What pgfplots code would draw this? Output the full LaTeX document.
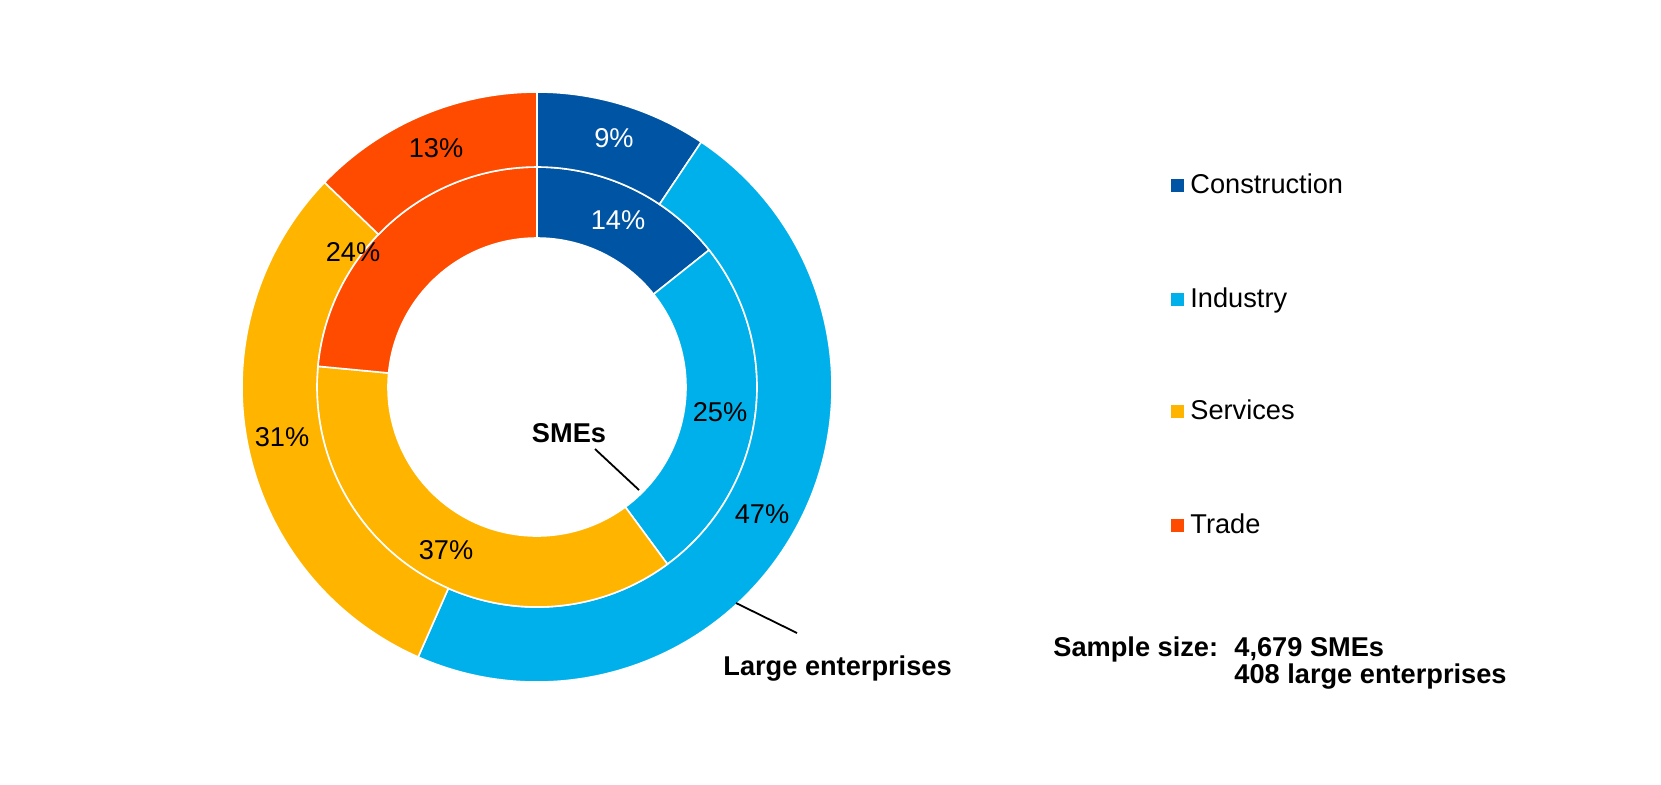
\documentclass[border=0pt]{standalone}
\usepackage{fontspec}
\setmainfont{Liberation Sans}
\usepackage{pgfplots}
\usepackage{pgfplotstable}
\pgfplotsset{compat=1.18}

\definecolor{cConstruction}{RGB}{0,84,164}
\definecolor{cIndustry}{RGB}{0,176,234}
\definecolor{cServices}{RGB}{255,180,0}
\definecolor{cTrade}{RGB}{255,75,0}

% shares in percent (inner ring: SMEs, outer ring: large enterprises)
\pgfplotstableread{
sector       sme   large
Construction 14.3  9.4
Industry     25.6  47.2
Services     36.6  30.6
Trade        23.5  12.8
}\shares

% one ring segment: #1 start (%), #2 share (%), #3 inner radius, #4 outer radius, #5 colour
\newcommand\donutseg[5]{%
  \fill[#5, draw=white, line width=0.8pt]
    ([shift={({90-3.6*(#1)}:#4)}]axis cs:537,387)
    arc[start angle={90-3.6*(#1)}, delta angle={-3.6*(#2)}, radius=#4]
    -- ([shift={({90-3.6*(#1+#2)}:#3)}]axis cs:537,387)
    arc[start angle={90-3.6*(#1+#2)}, delta angle={3.6*(#2)}, radius=#3]
    -- cycle;}

\def\segs{}
\def\cumS{0}\def\cumL{0}
\pgfplotsforeachungrouped \i in {0,...,3}{%
  \pgfplotstablegetelem{\i}{sme}\of\shares \let\vS\pgfplotsretval
  \pgfplotstablegetelem{\i}{large}\of\shares \let\vL\pgfplotsretval
  \pgfplotstablegetelem{\i}{sector}\of\shares \let\nm\pgfplotsretval
  \xdef\segs{\unexpanded\expandafter{\segs}%
    \noexpand\donutseg{\cumS}{\vS}{74.5pt}{110pt}{c\nm}%
    \noexpand\donutseg{\cumL}{\vL}{110pt}{147.5pt}{c\nm}}%
  \pgfmathsetmacro\cumS{\cumS+\vS}%
  \pgfmathsetmacro\cumL{\cumL+\vL}%
}

\newcommand\lbl{\fontsize{13.6pt}{16pt}\selectfont}

\begin{document}
\begin{tikzpicture}[every node/.append style={font=\lbl, inner sep=0pt}]
\lbl
\begin{axis}[
  width=830.5pt, height=392pt, scale only axis,
  xmin=0, xmax=1661, ymin=0, ymax=784, y dir=reverse,
  hide axis, clip=false,
]
\path (axis cs:0,0) rectangle (axis cs:1661,784);
\segs

% percentage labels
\node[white, font=\lbl, inner sep=0pt] at (axis cs:614,138) {9\%};
\node[font=\lbl, inner sep=0pt] at (axis cs:762,514) {47\%};
\node[font=\lbl, inner sep=0pt] at (axis cs:282,437) {31\%};
\node[font=\lbl, inner sep=0pt] at (axis cs:436,148) {13\%};
\node[white, font=\lbl, inner sep=0pt] at (axis cs:618,220) {14\%};
\node[font=\lbl, inner sep=0pt] at (axis cs:720,412) {25\%};
\node[font=\lbl, inner sep=0pt] at (axis cs:446,550) {37\%};
\node[font=\lbl, inner sep=0pt] at (axis cs:353,252) {24\%};

% ring captions
\draw[line width=0.9pt] (axis cs:595,449) -- (axis cs:639,490);
\node[anchor=base, font=\lbl\bfseries, inner sep=0pt] at (axis cs:569,442) {SMEs};
\draw[line width=0.9pt] (axis cs:736,603) -- (axis cs:797,633);
\node[anchor=base west, font=\lbl\bfseries, inner sep=0pt] at (axis cs:723,675) {Large enterprises};

% legend
\addplot[only marks, mark=square*, mark size=3pt, color=cConstruction] coordinates {(1177,185)};
\addplot[only marks, mark=square*, mark size=3pt, color=cIndustry] coordinates {(1177,299)};
\addplot[only marks, mark=square*, mark size=3pt, color=cServices] coordinates {(1177,411)};
\addplot[only marks, mark=square*, mark size=3pt, color=cTrade] coordinates {(1177,525)};
\node[anchor=base west, font=\lbl, inner sep=0pt] at (axis cs:1190,193.5) {Construction};
\node[anchor=base west, font=\lbl, inner sep=0pt] at (axis cs:1190,307.5) {Industry};
\node[anchor=base west, font=\lbl, inner sep=0pt] at (axis cs:1190,419.5) {Services};
\node[anchor=base west, font=\lbl, inner sep=0pt] at (axis cs:1190,533.5) {Trade};

% sample size
\node[anchor=base west, font=\lbl\bfseries, inner sep=0pt] at (axis cs:1053,656) {Sample size:};
\node[anchor=base west, font=\lbl\bfseries, inner sep=0pt] at (axis cs:1234,656) {4,679 SMEs};
\node[anchor=base west, font=\lbl\bfseries, inner sep=0pt] at (axis cs:1234,683) {408 large enterprises};
\end{axis}
\end{tikzpicture}
\end{document}
